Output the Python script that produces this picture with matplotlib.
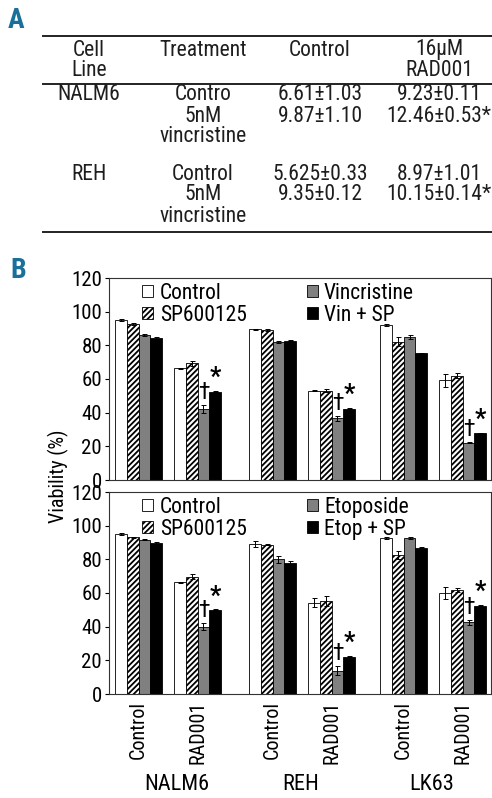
import numpy as np
import matplotlib
matplotlib.use("Agg")
import matplotlib.pyplot as plt
from matplotlib.lines import Line2D
from matplotlib.patches import Patch

# fonts: condensed look like the original figure
plt.rcParams['font.family'] = ['Roboto Condensed', 'Archivo Narrow', 'DejaVu Sans']
plt.rcParams['hatch.linewidth'] = 1.3

# ---- panel A table ----
table_header = [["Cell", "Line"], ["Treatment"], ["Control"], ["16\u03bcM", "RAD001"]]
cell_lines = ["NALM6", "REH"]
treatments = [["Contro", "5nM", "vincristine"], ["Control", "5nM", "vincristine"]]
control_vals = [["6.61\u00b11.03", "9.87\u00b11.10"], ["5.625\u00b10.33", "9.35\u00b10.12"]]
rad_vals = [["9.23\u00b10.11", "12.46\u00b10.53*"], ["8.97\u00b11.01", "10.15\u00b10.14*"]]

# ---- panel B data ----
groups = ["Control", "RAD001", "Control", "RAD001", "Control", "RAD001"]
cells = ["NALM6", "REH", "LK63"]

# vincristine experiment
ctrl_v = [95.1, 66.4, 89.5, 52.9, 92.1, 59.2]
sp_v = [92.7, 69.3, 89.3, 53.1, 82.2, 61.8]
vin = [86.0, 42.2, 81.8, 36.6, 85.2, 22.2]
vinsp = [84.4, 52.5, 82.8, 42.4, 75.3, 27.7]
ctrl_v_err = [0.5, 0.3, 0.5, 0.3, 0.5, 3.8]
sp_v_err = [0.4, 1.5, 0.6, 1.0, 2.6, 1.5]
vin_err = [0.7, 2.2, 0.7, 1.5, 1.2, 0.3]
vinsp_err = [0.7, 0.5, 0.3, 0.4, 0.3, 0.5]

# etoposide experiment
ctrl_e = [95.1, 66.4, 89.2, 54.3, 92.5, 59.8]
sp_e = [93.1, 69.7, 88.7, 55.5, 82.6, 61.8]
etop = [91.5, 40.0, 80.0, 13.7, 92.5, 42.6]
etopsp = [89.9, 50.1, 77.8, 22.2, 86.9, 52.5]
ctrl_e_err = [0.5, 0.3, 1.6, 2.6, 0.5, 3.5]
sp_e_err = [0.4, 1.3, 0.4, 3.0, 2.5, 1.2]
etop_err = [0.3, 2.0, 2.0, 2.7, 0.5, 1.5]
etopsp_err = [0.5, 0.3, 1.3, 0.4, 0.3, 0.5]

sig_groups = [1, 3, 5]  # dagger on drug alone, star on drug + SP

W, H = 492, 798
fig = plt.figure(figsize=(W / 100, H / 100), dpi=100)

# table drawn in pixel coordinates
axt = fig.add_axes([0, 0, 1, 1])
axt.set_xlim(0, W)
axt.set_ylim(H, 0)
axt.axis('off')
axt.patch.set_alpha(0)

blue = '#19709a'
axt.text(16, 20, "A", fontsize=20, fontweight='bold', color=blue, ha='center', va='center')
axt.text(18, 271, "B", fontsize=20, fontweight='bold', color=blue, ha='center', va='center')

for yy in [36, 84, 232]:
    axt.add_line(Line2D([43, W], [yy, yy], color='#222222', lw=1.4))

col_x = [89, 203, 320, 439]
tsize = 15.5
tcol = '#1e1e1e'
for cx, lines in zip(col_x, table_header):
    for k, s in enumerate(lines):
        axt.text(cx, 50 + 21 * k, s, fontsize=tsize, ha='center', va='center', color=tcol)

row_start = [95, 174]
for i in range(len(cell_lines)):
    y0 = row_start[i]
    axt.text(col_x[0], y0, cell_lines[i], fontsize=tsize, ha='center', va='center', color=tcol)
    for k, s in enumerate(treatments[i]):
        axt.text(col_x[1], y0 + 21 * k, s, fontsize=tsize, ha='center', va='center', color=tcol)
    for k, s in enumerate(control_vals[i]):
        axt.text(col_x[2], y0 + 21 * k, s, fontsize=tsize, ha='center', va='center', color=tcol)
    for k, s in enumerate(rad_vals[i]):
        axt.text(col_x[3], y0 + 21 * k, s, fontsize=tsize, ha='center', va='center', color=tcol)

# bar charts
pos = np.array([0, 1, 2.27, 3.27, 4.49, 5.49])
bw = 0.2
offs = [-0.3, -0.1, 0.1, 0.3]
styles = [dict(color='white', hatch=None), dict(color='white', hatch='//////'),
          dict(color='#808080', hatch=None), dict(color='black', hatch=None)]

left, width = 109 / W, 382 / W
ax1 = fig.add_axes([left, 1 - 480 / H, width, 202 / H])
ax2 = fig.add_axes([left, 1 - 694 / H, width, 202 / H])

panels = [
    (ax1, [ctrl_v, sp_v, vin, vinsp], [ctrl_v_err, sp_v_err, vin_err, vinsp_err],
     ["Control", "SP600125", "Vincristine", "Vin + SP"]),
    (ax2, [ctrl_e, sp_e, etop, etopsp], [ctrl_e_err, sp_e_err, etop_err, etopsp_err],
     ["Control", "SP600125", "Etoposide", "Etop + SP"]),
]

for ax, series, errs, labels in panels:
    for j in range(4):
        ax.bar(pos + offs[j], series[j], bw, yerr=errs[j], color=styles[j]['color'],
               hatch=styles[j]['hatch'], edgecolor='black', linewidth=0.6,
               error_kw=dict(ecolor='black', elinewidth=0.7, capsize=1.8, capthick=0.7))
    for g in sig_groups:
        ax.text(pos[g] + offs[2], series[2][g] + errs[2][g] + 0.6, "\u2020", fontsize=17,
                ha='center', va='bottom')
        ax.text(pos[g] + offs[3], series[3][g] + errs[3][g] + 0.5, "*", fontsize=18,
                fontweight='bold', ha='center', va='bottom')
    handles = [Patch(facecolor=styles[j]['color'], hatch=styles[j]['hatch'], edgecolor='black',
                     linewidth=0.6) for j in range(4)]
    ax.legend(handles, labels, ncol=2, loc='upper left', bbox_to_anchor=(0.065, 1.02),
              frameon=False, fontsize=15.5, handlelength=0.5, handleheight=0.5,
              handletextpad=0.3, columnspacing=2.8, labelspacing=0.05, borderaxespad=0)
    ax.set_xlim(-0.5, 5.97)
    ax.set_ylim(0, 120)
    ax.set_yticks(np.arange(0, 121, 20))
    ax.tick_params(axis='y', labelsize=15, length=3, width=0.8, pad=2)
    for sp in ax.spines.values():
        sp.set_linewidth(0.8)
        sp.set_color('#333333')

ax1.set_xticks([])
ax2.set_xticks(pos)
ax2.set_xticklabels(groups, rotation=90, fontsize=14.5)
ax2.tick_params(axis='x', length=0, pad=5)

# cell line labels below
cell_x = [0.65, 2.75, 4.97]
for c, x in zip(cells, cell_x):
    ax2.text(x, -0.45, c, transform=ax2.get_xaxis_transform(), fontsize=16,
             ha='center', va='center')

fig.text(58 / W, 1 - 476 / H, "Viability (%)", rotation=90, fontsize=14.5,
         ha='center', va='center')

fig.savefig("out.png", dpi=100)
